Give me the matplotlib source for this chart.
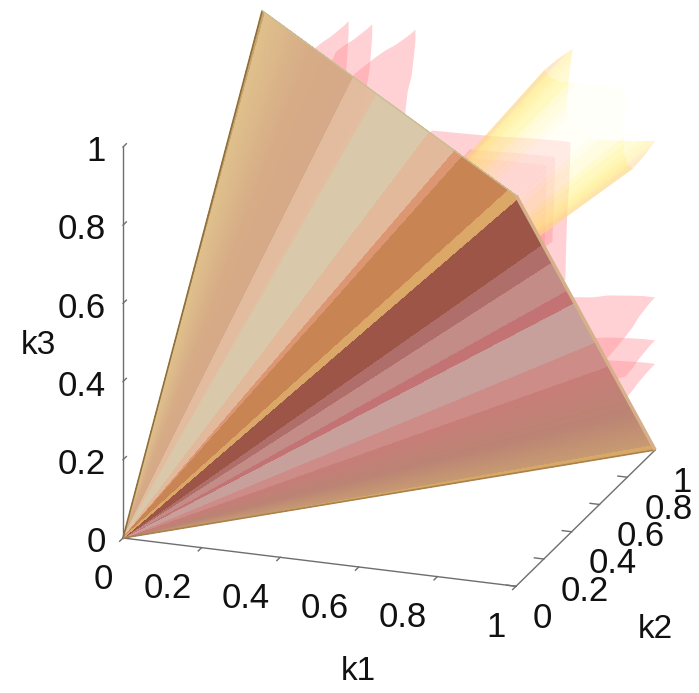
import numpy as np
import matplotlib
matplotlib.use("Agg")
import matplotlib.pyplot as plt
from matplotlib.colors import LinearSegmentedColormap
from matplotlib.text import Text
from mpl_toolkits.mplot3d import proj3d
from mpl_toolkits.mplot3d.art3d import Poly3DCollection

plt.rcParams['font.family'] = ['Liberation Sans', 'DejaVu Sans']

tick_values = [0, 0.2, 0.4, 0.6, 0.8, 1]
tick_labels = ['0', '0.2', '0.4', '0.6', '0.8', '1']

# contour levels where the pink sheets meet the cube's far edges
sheet_levels = [0.22, 0.28, 0.39]
sheet_u = [1.0, 0.97, 0.93, 0.88, 0.84, 0.79, 0.72, 0.66, 0.60]
sheet_r = [1.0, 1.0, 0.99, 0.975, 0.95, 0.935, 0.92, 0.91, 0.90]

# central tube, outline on the k3 = 1 face
tube_k1 = [0.79, 0.78, 0.775, 0.80, 0.84, 0.92, 1.0]
tube_k2 = [1.0, 0.92, 0.84, 0.80, 0.775, 0.78, 0.79]

# front-face bands: position across the face, colour
left_t = [0.0, 0.012, 0.012, 0.20, 0.36, 0.36, 0.4535, 0.4535, 0.66, 0.66, 0.76, 0.76, 0.79, 0.79, 0.972, 0.972, 1.0]
left_c = ['#c8a56c', '#c8a56c', '#dfc08c', '#d6ab86', '#d6a988', '#e3bd9f', '#e3bd9f', '#d9c8a9', '#d9c8a9',
          '#e2b99b', '#e2b99b', '#dc9672', '#dc9672', '#c98453', '#c98453', '#dba868', '#dba868']
right_t = [0.0, 0.012, 0.012, 0.19, 0.19, 0.26, 0.26, 0.37, 0.37, 0.42, 0.42, 0.575, 0.575, 0.67, 0.67, 0.85, 0.98, 0.98, 1.0]
right_c = ['#dba868', '#dba868', '#9c5546', '#9c5546', '#af6e69', '#af6e69', '#c38c87', '#c38c87', '#c37373', '#c37373',
           '#c8a09b', '#c8a09b', '#cd8c87', '#cd8c87', '#c87d78', '#bb8474', '#c79a72', '#d8a868', '#d8a868']

FIG_W, FIG_H, DPI = 699, 693, 100
ORIGIN_PX = (123.0, 538.0)
K3_PX = 391.0
AX_PX = 640.0
ELEV, AZIM = 20.3, -70.5

fig = plt.figure(figsize=(FIG_W / DPI, FIG_H / DPI), dpi=DPI)
left0, bottom0 = (390.5 - AX_PX / 2), (FIG_H - 300.5 - AX_PX / 2)
ax = fig.add_axes([left0 / FIG_W, bottom0 / FIG_H, AX_PX / FIG_W, AX_PX / FIG_H],
                  projection='3d', proj_type='ortho', computed_zorder=False)
ax.view_init(elev=ELEV, azim=AZIM)
ax.set_xlim(0, 1, view_margin=0)
ax.set_ylim(0, 1, view_margin=0)
ax.set_zlim(0, 1, view_margin=0)


def px(p):
    x, y, _ = proj3d.proj_transform(*p, ax.get_proj())
    return ax.transData.transform((x, y))


zoom = 1.0
for _ in range(3):
    ax.set_box_aspect((1, 1, 1), zoom=zoom)
    zoom *= K3_PX / abs(px((0, 0, 1))[1] - px((0, 0, 0))[1])
ax.set_box_aspect((1, 1, 1), zoom=zoom)
o = px((0, 0, 0))
left0 += ORIGIN_PX[0] - o[0]
bottom0 += (FIG_H - ORIGIN_PX[1]) - o[1]
ax.set_position([left0 / FIG_W, bottom0 / FIG_H, AX_PX / FIG_W, AX_PX / FIG_H])


def fan(points, start=0.0):
    pts = np.asarray(points, float)
    polys = []
    for i in range(len(pts) - 1):
        if start > 0:
            polys.append([tuple(pts[i] * start), tuple(pts[i]), tuple(pts[i + 1]), tuple(pts[i + 1] * start)])
        else:
            polys.append([(0, 0, 0), tuple(pts[i]), tuple(pts[i + 1])])
    return polys


def add(polys, colors, z, aa=False):
    c = Poly3DCollection(polys, facecolors=colors, edgecolors='none', linewidths=0, antialiased=aa)
    c.set_zorder(z)
    c.set_facecolor(colors)
    ax.add_collection3d(c)
    return c


# pink sheets: V shaped contours near each of the three small-k corners
perms = [lambda s, a, b: (s, a, b), lambda s, a, b: (b, s, a), lambda s, a, b: (a, b, s)]
for lev in sheet_levels[::-1]:
    branch_a, branch_b = [], []
    for u, r in zip(sheet_u, sheet_r):
        s = lev * r
        if u >= 1 - s - 0.01:
            branch_a.append((s, 1.0, u))
            branch_b.append((s, u, 1.0))
    for perm in perms:
        for branch in (branch_a, branch_b):
            poly = [(0, 0, 0)] + [perm(*p) for p in branch]
            add([poly], (1.0, 0.55, 0.58, 0.40), 2, aa=True)

# central tube: colour by how obliquely each facet faces the viewer
tube_cmap = LinearSegmentedColormap.from_list('tube', [(0.0, (0.97, 0.70, 0.48, 0.50)),
                                                       (0.22, (1.0, 0.84, 0.52, 0.45)),
                                                       (0.55, (1.0, 0.93, 0.50, 0.45)),
                                                       (0.90, (1.0, 0.97, 0.62, 0.38)),
                                                       (1.0, (1.0, 1.0, 0.95, 0.35))], N=512)
face = np.column_stack([tube_k1, tube_k2, np.ones(len(tube_k1))])
outline = []
for i in range(3):
    for j in range(len(face) - 1):
        a, b = np.roll(face[j], i), np.roll(face[j + 1], i)
        for f in np.arange(0, 1, 1 / 4):
            outline.append(a + (b - a) * f)
outline.append(outline[0])
outline = np.array(outline)
view = np.array([np.cos(np.radians(ELEV)) * np.cos(np.radians(AZIM)),
                 np.cos(np.radians(ELEV)) * np.sin(np.radians(AZIM)),
                 np.sin(np.radians(ELEV))])
facing = []
for p0, p1 in zip(outline[:-1], outline[1:]):
    n = np.cross(p0, p1)
    n = n / (np.linalg.norm(n) + 1e-12)
    facing.append(abs(n @ view))
facing = np.array(facing)
kernel = np.ones(5) / 5
smooth = np.convolve(np.r_[facing[-2:], facing, facing[:2]], kernel, mode='valid')
add(fan(outline, start=0.5), [tube_cmap(min(v * 1.1, 1.0)) for v in smooth], 3, aa=True)


# front faces as fans of thin wedges
def band_fan(t_stops, colors, start, stop, z, alpha=0.9):
    cmap = LinearSegmentedColormap.from_list('b', list(zip(t_stops, colors)), N=1024)
    tt = np.linspace(0, 1, 500)
    edge_pts = np.outer(1 - tt, start) + np.outer(tt, stop)
    cols = [(*cmap(v)[:3], alpha) for v in (tt[:-1] + tt[1:]) / 2]
    add(fan(edge_pts), cols, z)


O, A, B, C = (0, 0, 0), (0, 1, 1), (1, 0, 1), (1, 1, 0)
band_fan(left_t, left_c, A, B, 5)
band_fan(right_t, right_c, B, C, 6)


def edge(p, q, color, lw, z=7, **kw):
    ax.plot3D(*zip(p, q), color=color, lw=lw, zorder=z, solid_capstyle='butt', **kw)


edge(O, A, '#8f6f3c', 1.2)
edge(O, C, '#a9824c', 1.2)
edge(B, C, '#d6b08a', 2.5)
edge(A, B, '#c9bf95', 1.0)

ax.xaxis.set_pane_color((1, 1, 1, 0))
ax.yaxis.set_pane_color((1, 1, 1, 0))
ax.zaxis.set_pane_color((1, 1, 1, 0))
ax.grid(False)
for axis in (ax.xaxis, ax.yaxis, ax.zaxis):
    axis.set_ticks(tick_values)
    axis.set_ticklabels(tick_labels)
    axis.line.set_color('#6e6e6e')
    axis.line.set_linewidth(1.0)
    axis.pane.set_edgecolor((1, 1, 1, 0))
    axis._axinfo['tick']['inward_factor'] = 0.0
    axis._axinfo['tick']['outward_factor'] = 0.3
    axis._axinfo['tick']['linewidth'] = {True: 1.0, False: 0.5}
    axis._axinfo['tick']['color'] = '#6e6e6e'
ax.xaxis._axinfo['tick']['inward_factor'] = 0.3
ax.xaxis._axinfo['tick']['outward_factor'] = 0.0
ax.tick_params(axis='both', labelsize=25, pad=6, colors='#6e6e6e', labelcolor='#111111')
ax.set_xlabel('k1', fontsize=24, labelpad=20, color='#111111')
ax.set_ylabel('k2', fontsize=24, labelpad=20, color='#111111')
ax.set_zlabel('k3', fontsize=24, labelpad=20, color='#111111')
ax.zaxis.set_ticks_position('lower')
ax.zaxis.set_label_position('lower')

unit = ax.transData.transform((1, 1)) - ax.transData.transform((0, 0))


def nudge(text, dx, dy):
    """Shift a 3D axis text by screen pixels each time the axis places it."""
    ddx, ddy = dx / unit[0], dy / unit[1]
    text.set_position = lambda xy: Text.set_position(text, (xy[0] + ddx, xy[1] + ddy))


label_style = [(ax.xaxis, 'right', (-2, 6)), (ax.yaxis, 'left', (-6, 10)), (ax.zaxis, 'right', (14, 17))]
for axis, ha, (dx, dy) in label_style:
    for tick in axis.get_major_ticks():
        tick.label1.set_ha(ha)
        nudge(tick.label1, dx, dy)
nudge(ax.xaxis.label, 63, -19)
nudge(ax.yaxis.label, 3, -36)
nudge(ax.zaxis.label, 6, 12)

fig.savefig('out.png', dpi=DPI, facecolor='white')
